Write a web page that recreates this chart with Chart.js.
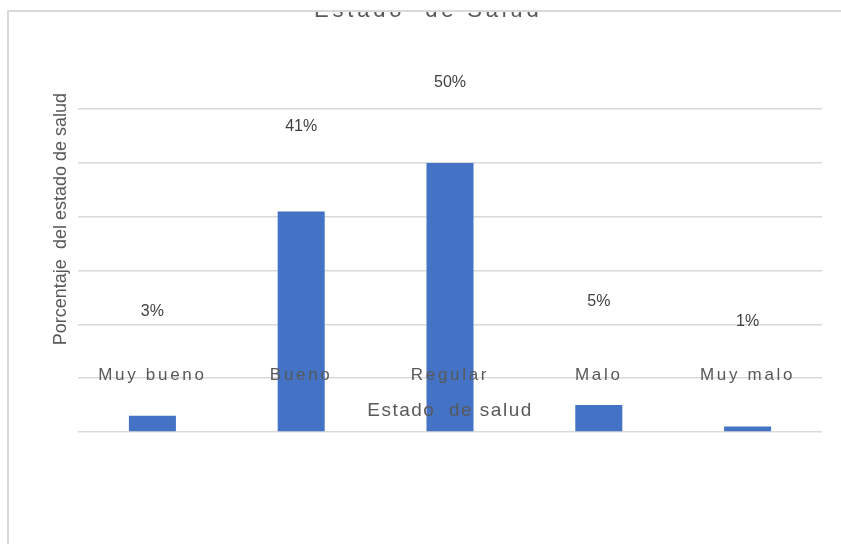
<!DOCTYPE html>
<html>
<head>
<meta charset="utf-8">
<script src="https://cdn.jsdelivr.net/npm/chart.js@4.4.1/dist/chart.umd.min.js"></script>
<style>
  html, body { margin: 0; padding: 0; background: #fff; overflow: hidden; }
  #wrap { position: relative; width: 841px; height: 544px; }
  #chart { position: absolute; left: 0; top: 0; }
  /* white strip over the top of the canvas, title gets cut at the frame */
  #cover { position: absolute; left: 0; top: 0; width: 841px; height: 10px; background: #fff; }
  #frame {
    position: absolute; left: 7px; top: 10px; width: 900px; height: 600px;
    border-left: 2px solid #d9d9d9; border-top: 2px solid #d9d9d9;
  }
</style>
</head>
<body>
<div id="wrap">
  <canvas id="chart" width="841" height="544"></canvas>
  <div id="cover"></div>
  <div id="frame"></div>
</div>
<script>
// data
const categories = ["Muy bueno", "Bueno", "Regular", "Malo", "Muy malo"];
const percentages = [3, 41, 50, 5, 1];

const FONT = "'Liberation Sans', Arial, sans-serif";
const TEXT = "#595959";

// run a draw method with canvas letter spacing turned on (and an optional nudge)
function withSpacing(fn, px, dx = 0) {
  return function (...args) {
    const ctx = this.ctx;
    ctx.save();
    ctx.letterSpacing = px;
    ctx.translate(dx, 0);
    fn.apply(this, args);
    ctx.restore();
  };
}

const spacing = {
  id: "spacing",
  afterLayout(chart) {
    const x = chart.scales.x;
    if (!x._spaced) {
      x.drawLabels = withSpacing(x.drawLabels, "2.7px");
      x.drawTitle = withSpacing(x.drawTitle, "1.5px");
      // category names sit up inside the plot, so don't clip them to the axis box
      x._computeLabelArea = () => undefined;
      x._spaced = true;
    }
    const title = chart.titleBlock;
    if (title && !title._spaced) {
      title.draw = withSpacing(title.draw, "3.8px", -4.5);
      title._spaced = true;
    }
  },
};

// percentage labels, placed on their own hidden scale
const valueLabels = {
  id: "valueLabels",
  afterDatasetsDraw(chart) {
    const { ctx } = chart;
    const lbl = chart.scales.yLbl;
    const values = chart.data.datasets[0].data;
    ctx.save();
    ctx.font = "16px " + FONT;
    ctx.fillStyle = "#404040";
    ctx.textAlign = "center";
    ctx.textBaseline = "middle";
    chart.getDatasetMeta(0).data.forEach((bar, i) => {
      ctx.fillText(values[i] + "%", bar.x, lbl.getPixelForValue(values[i]));
    });
    ctx.restore();
  },
};

new Chart(document.getElementById("chart"), {
  type: "bar",
  data: {
    labels: categories,
    datasets: [
      {
        label: "Porcentaje",
        data: percentages,
        backgroundColor: "#4472C4",
        borderWidth: 0,
        categoryPercentage: 1,
        barPercentage: 0.316,
      },
    ],
  },
  options: {
    responsive: false,
    animation: false,
    layout: {
      padding: { left: 43.5, right: 19, top: 0, bottom: 102.2 },
    },
    plugins: {
      legend: { display: false },
      tooltip: { enabled: false },
      title: {
        display: true,
        text: "Estado  de Salud",
        color: TEXT,
        font: { family: FONT, size: 22, weight: "normal" },
        padding: { top: -2.6, bottom: 69.2 },
      },
    },
    scales: {
      x: {
        // z above 0 so names and title are painted over the bars
        grid: { display: false, drawTicks: false, z: 1 },
        border: { display: false },
        ticks: {
          z: 1,
          color: TEXT,
          font: { family: FONT, size: 17 },
          padding: -67.2,
          autoSkip: false,
          maxRotation: 0,
        },
        title: {
          display: true,
          text: "Estado  de salud",
          color: TEXT,
          font: { family: FONT, size: 19 },
          padding: { top: 81, bottom: 20 },
        },
      },
      y: {
        min: 0,
        max: 63,
        grid: { color: "#d9d9d9", lineWidth: 1.5, drawTicks: false },
        border: { display: false },
        ticks: { display: false, stepSize: 10, includeBounds: false },
        title: {
          display: true,
          text: "Porcentaje  del estado de salud",
          align: "end",
          color: TEXT,
          font: { family: FONT, size: 18 },
          padding: { top: 7, bottom: 5.9 },
        },
      },
      yLbl: {
        type: "linear",
        position: "left",
        display: false,
        min: -21.77,
        max: 47.85,
      },
    },
  },
  plugins: [spacing, valueLabels],
});
</script>
</body>
</html>
